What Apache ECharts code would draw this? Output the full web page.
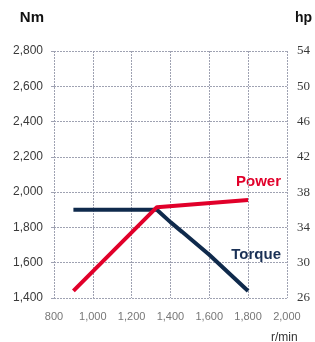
<!DOCTYPE html>
<html>
<head>
<meta charset="utf-8">
<script src="https://cdn.jsdelivr.net/npm/echarts@6/dist/echarts.min.js"></script>
<style>
  html, body { margin: 0; padding: 0; background: #fff; }
  #main { width: 315px; height: 342px; }
</style>
</head>
<body>
<div id="main"></div>
<script>
var myChart = echarts.init(document.getElementById('main'));

// 数据：转速 / 扭矩(Nm) / 功率(hp)
var torqueRpm = [900, 1330, 1400, 1460, 1600, 1800];
var torqueNm = [1900, 1900, 1830, 1775, 1645, 1440];
var powerRpm = [900, 1330, 1800];
var powerHp = [26.8, 36.3, 37.1];
var rpmTicks = [800, 1000, 1200, 1400, 1600, 1800, 2000];

function pairs(xs, ys) {
    var out = [];
    for (var i = 0; i < xs.length; i++) out.push([xs[i], ys[i]]);
    return out;
}

var gridLine = {
    show: true,
    lineStyle: { color: '#9fa2b2', width: 1, type: [2, 1] }
};

var option = {
    animation: false,
    backgroundColor: '#fff',
    grid: { left: 54, right: 26, top: 51, bottom: 44 },
    xAxis: {
        type: 'value',
        min: rpmTicks[0],
        max: rpmTicks[rpmTicks.length - 1],
        interval: 200,
        axisLine: { show: false },
        axisTick: { show: false },
        splitLine: gridLine,
        axisLabel: {
            margin: 13,
            color: '#777',
            fontFamily: 'Liberation Sans',
            fontSize: 11,
            formatter: function (v) { return v.toLocaleString('en-US'); }
        }
    },
    yAxis: [{
        type: 'value',
        min: 1400,
        max: 2800,
        interval: 200,
        name: 'Nm',
        nameLocation: 'end',
        nameGap: 26,
        nameTextStyle: {
            align: 'right', padding: [0, 10, 0, 0],
            color: '#111', fontWeight: 'bold', fontSize: 15, fontFamily: 'Liberation Sans'
        },
        axisLine: { show: false },
        axisTick: { show: true, length: 3, lineStyle: { color: '#9fa2b2' } },
        splitLine: gridLine,
        axisLabel: {
            margin: 11,
            color: '#3a3a3a',
            fontFamily: 'Liberation Sans',
            fontSize: 12,
            formatter: function (v) { return v.toLocaleString('en-US'); }
        }
    }, {
        type: 'value',
        min: 26,
        max: 54,
        alignTicks: true,
        position: 'right',
        name: 'hp',
        nameLocation: 'end',
        nameGap: 26,
        nameTextStyle: {
            align: 'left', padding: [0, 0, 0, 8],
            color: '#111', fontWeight: 'bold', fontSize: 14, fontFamily: 'Liberation Sans'
        },
        axisLine: { show: false },
        axisTick: { show: false },
        splitLine: { show: false },
        axisLabel: {
            margin: 10,
            color: '#3a3a3a',
            fontFamily: 'Liberation Serif',
            fontSize: 13
        }
    }],
    graphic: [{
        type: 'text',
        right: 34, top: 174,
        style: { text: 'Power', fill: '#e1002a', font: 'bold 15px "Liberation Sans"' }
    }, {
        type: 'text',
        right: 34, top: 247,
        style: { text: 'Torque', fill: '#1a3156', font: 'bold 15px "Liberation Sans"' }
    }, {
        type: 'text',
        left: 271, top: 332,
        style: { text: 'r/min', fill: '#333', font: '12px "Liberation Sans"' }
    }],
    series: [{
        name: 'Torque',
        type: 'line',
        yAxisIndex: 0,
        showSymbol: false,
        data: pairs(torqueRpm, torqueNm),
        lineStyle: { color: '#0f2a4c', width: 4 },
        itemStyle: { color: '#0f2a4c' }
    }, {
        name: 'Power',
        type: 'line',
        yAxisIndex: 1,
        showSymbol: false,
        data: pairs(powerRpm, powerHp),
        lineStyle: { color: '#e1002a', width: 4 },
        itemStyle: { color: '#e1002a' }
    }]
};

myChart.setOption(option);
</script>
</body>
</html>
